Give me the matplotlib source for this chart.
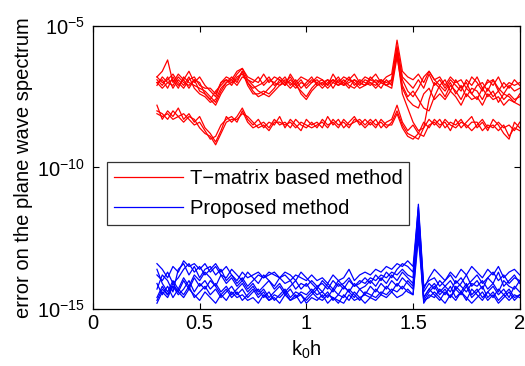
import numpy as np
import matplotlib
matplotlib.use("Agg")
import matplotlib.pyplot as plt
from matplotlib.lines import Line2D

plt.rcParams['font.family'] = ['Liberation Sans', 'DejaVu Sans']
plt.rcParams['mathtext.fontset'] = 'custom'
plt.rcParams['mathtext.rm'] = 'Liberation Sans'
plt.rcParams['mathtext.it'] = 'Liberation Sans:italic'
plt.rcParams['mathtext.default'] = 'regular'

# k0h sample grid (0.3 .. 2.0)
k0h = np.round(np.arange(0.3, 2.0001, 0.025), 3)

# log10 of error, T-matrix based method (upper group)
red_u1 = [-6.8, -6.6, -6.2, -7.0, -6.7, -6.9, -6.6, -7.0, -6.8, -7.1,
          -7.3, -7.5, -7.0, -6.8, -6.9, -6.6, -6.5, -6.8, -6.9, -7.0,
          -6.7, -7.0, -6.8, -6.9, -7.1, -6.7, -7.0, -6.8, -6.9, -7.0,
          -6.8, -6.9, -7.1, -6.7, -7.0, -6.8, -6.9, -6.7, -7.0, -6.8,
          -6.9, -6.7, -7.0, -6.8, -6.7, -5.5, -6.6, -6.8, -6.9, -6.7,
          -7.0, -6.6, -6.9, -6.8, -7.1, -6.8, -7.0, -6.9, -7.2, -6.8,
          -7.0, -7.3, -6.9, -7.1, -6.8, -7.2, -7.0, -7.1, -7.0]
red_u2 = [-7.0, -6.9, -7.2, -6.8, -7.1, -6.9, -7.2, -6.9, -7.3, -7.4,
          -7.6, -7.3, -7.1, -6.9, -7.1, -6.8, -6.7, -7.0, -7.2, -7.1,
          -7.0, -6.8, -7.1, -7.0, -6.8, -7.1, -6.9, -7.2, -7.0, -6.8,
          -7.1, -7.0, -6.9, -7.2, -6.9, -7.0, -7.2, -6.9, -7.1, -6.9,
          -7.0, -7.1, -6.9, -7.0, -6.9, -5.8, -6.9, -7.3, -7.5, -7.2,
          -6.8, -6.6, -6.9, -7.1, -6.9, -7.3, -6.9, -7.2, -7.0, -7.4,
          -7.1, -7.0, -7.3, -6.9, -7.2, -7.4, -7.1, -7.3, -7.2]
red_u3 = [-6.9, -7.1, -6.8, -7.2, -6.9, -7.1, -6.8, -7.2, -7.4, -7.5,
          -7.7, -7.6, -7.2, -7.0, -6.9, -7.1, -6.8, -6.9, -7.1, -7.3,
          -7.4, -7.2, -7.0, -7.1, -6.9, -7.0, -7.2, -7.0, -7.1, -6.9,
          -7.0, -7.2, -7.0, -6.9, -7.1, -7.0, -6.8, -7.1, -6.9, -7.0,
          -7.1, -6.9, -7.0, -7.1, -7.0, -6.0, -7.4, -7.9, -8.4, -8.7,
          -8.6, -7.6, -7.0, -7.2, -7.5, -7.1, -7.3, -7.6, -7.2, -7.4,
          -7.6, -7.2, -7.5, -7.3, -7.7, -7.4, -7.5, -7.7, -7.4]
red_u4 = [-7.1, -6.8, -7.0, -6.9, -7.2, -6.8, -7.0, -7.1, -7.2, -7.3,
          -7.5, -7.7, -7.3, -7.0, -6.8, -7.0, -6.6, -7.1, -7.4, -7.4,
          -7.3, -7.4, -7.2, -6.9, -7.1, -6.9, -7.1, -7.3, -7.5, -7.2,
          -7.0, -6.9, -7.1, -6.9, -7.0, -7.1, -6.9, -7.0, -7.2, -7.1,
          -6.9, -7.0, -7.2, -6.9, -7.1, -5.9, -7.1, -7.5, -7.3, -7.6,
          -7.9, -8.0, -7.5, -7.1, -7.3, -7.0, -7.4, -7.1, -7.5, -7.2,
          -7.3, -7.6, -7.2, -7.5, -7.3, -7.6, -7.4, -7.6, -7.5]
red_u5 = [-6.8, -7.0, -6.9, -6.7, -7.0, -7.2, -6.9, -6.8, -7.1, -7.2,
          -7.2, -7.4, -7.0, -6.9, -7.0, -6.7, -6.5, -6.9, -7.0, -6.8,
          -7.1, -6.9, -7.0, -6.8, -7.0, -6.8, -7.1, -6.9, -7.2, -7.0,
          -6.9, -7.1, -6.9, -7.0, -6.8, -7.1, -7.0, -6.9, -7.0, -7.1,
          -6.8, -7.0, -6.9, -7.1, -6.9, -5.7, -6.8, -7.0, -7.2, -6.9,
          -7.2, -6.7, -7.1, -6.9, -7.2, -6.9, -7.1, -7.3, -6.9, -7.1,
          -6.8, -7.2, -7.0, -6.9, -7.3, -7.0, -7.2, -6.9, -7.1]
red_u6 = [-7.0, -7.2, -7.0, -7.1, -6.8, -7.0, -7.1, -6.9, -7.0, -7.4,
          -7.6, -7.8, -7.4, -7.1, -7.0, -6.9, -6.6, -7.0, -7.3, -7.5,
          -7.4, -7.5, -7.3, -7.1, -7.0, -7.2, -7.0, -7.4, -7.6, -7.3,
          -7.1, -7.0, -7.2, -7.0, -7.1, -6.9, -7.1, -7.2, -7.0, -7.1,
          -7.0, -7.2, -7.0, -7.1, -7.2, -6.1, -7.2, -7.6, -7.8, -7.9,
          -7.4, -7.2, -7.6, -7.4, -7.6, -7.3, -7.5, -7.8, -7.4, -7.6,
          -7.5, -7.8, -7.4, -7.6, -7.5, -7.8, -7.6, -7.7, -7.8]
# log10 of error, T-matrix based method (lower group)
red_l1 = [-7.8, -8.3, -8.0, -8.2, -7.9, -8.3, -8.1, -8.4, -8.2, -8.6,
          -8.8, -9.1, -8.7, -8.2, -8.4, -8.2, -7.9, -8.3, -8.5, -8.3,
          -8.6, -8.4, -8.5, -8.2, -8.6, -8.3, -8.5, -8.7, -8.3, -8.5,
          -8.4, -8.6, -8.2, -8.5, -8.3, -8.6, -8.4, -8.2, -8.5, -8.3,
          -8.5, -8.3, -8.6, -8.4, -8.3, -7.8, -8.4, -8.7, -8.5, -8.8,
          -8.4, -8.6, -8.3, -8.5, -8.4, -8.7, -8.3, -8.6, -8.4, -8.2,
          -8.6, -8.4, -8.7, -8.3, -8.5, -8.8, -9.0, -8.4, -8.6]
red_l2 = [-8.0, -8.1, -8.3, -8.0, -8.2, -8.1, -8.3, -8.5, -8.4, -8.7,
          -9.0, -8.9, -8.5, -8.3, -8.2, -8.4, -8.0, -8.4, -8.6, -8.5,
          -8.4, -8.6, -8.3, -8.5, -8.4, -8.6, -8.3, -8.5, -8.6, -8.4,
          -8.6, -8.3, -8.5, -8.4, -8.6, -8.3, -8.5, -8.4, -8.3, -8.5,
          -8.3, -8.5, -8.4, -8.6, -8.4, -8.0, -8.5, -8.8, -8.9, -9.0,
          -8.6, -8.3, -8.5, -8.3, -8.6, -8.4, -8.5, -8.3, -8.6, -8.4,
          -8.4, -8.7, -8.5, -8.6, -8.4, -8.6, -8.5, -8.7, -8.4]
red_l3 = [-8.1, -8.2, -8.1, -8.3, -8.2, -8.4, -8.2, -8.3, -8.6, -8.8,
          -8.9, -9.2, -8.8, -8.4, -8.3, -8.3, -8.1, -8.2, -8.4, -8.6,
          -8.5, -8.7, -8.4, -8.4, -8.5, -8.4, -8.6, -8.4, -8.5, -8.6,
          -8.5, -8.4, -8.6, -8.3, -8.5, -8.4, -8.6, -8.3, -8.4, -8.6,
          -8.4, -8.6, -8.3, -8.5, -8.5, -8.1, -8.6, -8.9, -9.0, -8.8,
          -8.9, -8.5, -8.4, -8.6, -8.3, -8.5, -8.6, -8.4, -8.5, -8.7,
          -8.5, -8.3, -8.6, -8.5, -8.7, -8.5, -8.9, -8.6, -8.7]

# log10 of error, proposed method
blue_1 = [-13.4, -13.6, -13.9, -13.5, -13.7, -13.3, -13.5, -13.4, -13.6, -13.4,
          -13.7, -13.5, -13.8, -13.9, -13.6, -13.8, -14.0, -13.7, -13.9, -14.1,
          -13.8, -14.0, -14.2, -13.9, -14.1, -14.0, -14.3, -14.1, -14.2, -14.0,
          -14.2, -14.1, -14.3, -14.0, -14.2, -14.1, -13.9, -14.2, -14.0, -14.1,
          -13.9, -14.0, -13.8, -13.9, -13.7, -13.8, -13.6, -13.8, -13.9, -11.3,
          -14.2, -14.0, -13.9, -14.2, -14.0, -13.8, -14.1, -13.9, -14.2, -14.0,
          -13.8, -14.1, -13.9, -13.7, -14.0, -13.8, -14.1, -13.9, -14.0]
blue_2 = [-14.3, -13.8, -14.0, -14.4, -13.6, -13.4, -13.8, -13.5, -13.9, -13.6,
          -13.5, -13.8, -13.6, -14.0, -13.8, -14.1, -13.9, -14.2, -14.0, -13.8,
          -13.9, -13.7, -13.8, -13.9, -13.7, -13.8, -14.0, -13.7, -13.9, -14.1,
          -14.3, -14.0, -14.2, -14.4, -14.1, -14.3, -14.0, -14.2, -14.1, -13.9,
          -14.1, -13.8, -14.0, -13.7, -13.9, -13.6, -13.4, -13.5, -13.7, -11.6,
          -14.6, -14.3, -14.1, -14.4, -14.2, -14.0, -14.3, -14.1, -13.8, -14.2,
          -14.0, -14.3, -13.9, -14.1, -13.7, -14.2, -14.0, -13.8, -14.1]
blue_3 = [-14.6, -14.2, -14.5, -14.1, -14.4, -14.0, -14.3, -13.9, -14.2, -14.0,
          -14.3, -14.1, -14.4, -14.2, -14.5, -14.3, -14.1, -14.4, -14.2, -14.5,
          -14.3, -14.6, -14.4, -14.2, -14.5, -14.3, -14.6, -14.4, -14.5, -14.3,
          -14.5, -14.4, -14.6, -14.3, -14.5, -14.2, -14.4, -14.6, -14.3, -14.5,
          -14.2, -14.4, -14.1, -14.3, -14.0, -14.2, -13.9, -14.1, -14.3, -12.0,
          -14.7, -14.4, -14.2, -14.5, -14.3, -14.6, -14.2, -14.4, -14.1, -14.5,
          -14.3, -14.6, -14.4, -14.2, -14.5, -14.3, -14.6, -14.2, -14.4]
blue_4 = [-14.8, -14.4, -14.6, -14.2, -14.5, -14.3, -14.0, -14.4, -14.1, -14.3,
          -14.0, -14.2, -14.5, -14.3, -14.6, -14.4, -14.7, -14.5, -14.3, -14.6,
          -14.4, -14.7, -14.5, -14.6, -14.4, -14.7, -14.5, -14.8, -14.6, -14.4,
          -14.6, -14.7, -14.5, -14.6, -14.8, -14.5, -14.7, -14.4, -14.6, -14.5,
          -14.6, -14.3, -14.5, -14.2, -14.4, -14.1, -14.3, -14.0, -14.2, -11.8,
          -14.8, -14.5, -14.6, -14.3, -14.5, -14.2, -14.6, -14.4, -14.7, -14.3,
          -14.5, -14.7, -14.4, -14.6, -14.3, -14.5, -14.7, -14.5, -14.6]
blue_5 = [-13.6, -14.1, -14.4, -14.0, -14.3, -13.9, -14.2, -13.8, -14.0, -13.7,
          -13.9, -14.2, -13.8, -14.1, -13.9, -14.2, -14.0, -14.3, -14.1, -14.4,
          -14.2, -14.0, -14.3, -14.1, -14.4, -14.2, -14.0, -14.3, -14.1, -14.4,
          -14.2, -14.4, -14.1, -14.3, -14.0, -14.2, -14.4, -14.1, -14.3, -14.2,
          -14.0, -14.2, -13.9, -14.1, -13.8, -14.0, -13.7, -13.9, -14.1, -11.5,
          -14.4, -14.1, -14.3, -14.0, -14.2, -14.4, -14.0, -14.2, -14.4, -14.1,
          -14.2, -14.0, -14.3, -14.1, -14.4, -14.0, -14.2, -14.3, -14.0]
blue_6 = [-14.1, -14.5, -14.2, -14.6, -14.3, -14.5, -14.2, -14.6, -14.4, -14.2,
          -14.5, -14.3, -14.6, -14.4, -14.2, -14.5, -14.3, -14.6, -14.4, -14.3,
          -14.6, -14.4, -14.7, -14.5, -14.3, -14.6, -14.4, -14.5, -14.7, -14.5,
          -14.3, -14.6, -14.4, -14.7, -14.5, -14.6, -14.3, -14.5, -14.7, -14.4,
          -14.5, -14.6, -14.4, -14.5, -14.3, -14.4, -14.2, -14.4, -14.5, -12.2,
          -14.6, -14.3, -14.5, -14.7, -14.4, -14.6, -14.3, -14.5, -14.2, -14.6,
          -14.4, -14.2, -14.6, -14.4, -14.7, -14.5, -14.3, -14.6, -14.5]
blue_7 = [-13.8, -14.0, -13.7, -14.1, -13.9, -13.6, -13.4, -13.7, -13.5, -13.8,
          -13.6, -13.4, -13.7, -13.5, -13.8, -14.0, -13.7, -13.9, -13.8, -13.7,
          -13.9, -13.8, -13.7, -13.9, -13.8, -14.0, -13.8, -13.9, -14.0, -13.8,
          -14.0, -13.9, -14.1, -13.8, -14.0, -13.9, -13.6, -14.0, -13.8, -13.7,
          -13.8, -13.6, -13.7, -13.5, -13.6, -13.4, -13.5, -13.3, -13.5, -11.4,
          -14.3, -13.9, -13.6, -13.8, -14.0, -13.7, -13.9, -13.6, -13.8, -13.5,
          -13.7, -13.9, -13.6, -13.8, -13.5, -13.9, -13.7, -13.6, -13.8]
blue_8 = [-14.7, -14.3, -14.5, -14.2, -14.4, -14.6, -14.3, -14.5, -14.7, -14.4,
          -14.6, -14.8, -14.5, -14.7, -14.4, -14.6, -14.5, -14.7, -14.6, -14.8,
          -14.5, -14.7, -14.6, -14.8, -14.5, -14.7, -14.6, -14.5, -14.8, -14.6,
          -14.7, -14.5, -14.8, -14.6, -14.7, -14.8, -14.5, -14.7, -14.6, -14.8,
          -14.6, -14.7, -14.5, -14.6, -14.4, -14.6, -14.5, -14.3, -14.5, -12.5,
          -14.7, -14.6, -14.4, -14.6, -14.8, -14.5, -14.7, -14.4, -14.6, -14.8,
          -14.6, -14.4, -14.7, -14.5, -14.8, -14.6, -14.4, -14.7, -14.5]

red_series = [red_u1, red_u2, red_u3, red_u4, red_u5, red_u6, red_l1, red_l2, red_l3]
blue_series = [blue_1, blue_2, blue_3, blue_4, blue_5, blue_6, blue_7, blue_8]
legend_labels = ["T\u2212matrix based method", "Proposed method"]
xticks = [0, 0.5, 1, 1.5, 2]
xtick_labels = ["0", "0.5", "1", "1.5", "2"]
yticks = [1e-15, 1e-10, 1e-5]

FS = 14.5

fig = plt.figure(figsize=(5.25, 3.66), dpi=100)
ax = fig.add_axes([0.177, 0.156, 0.813, 0.773])

for s in red_series:
    ax.plot(k0h, 10.0 ** np.array(s), color='#ff0000', lw=0.9)
for s in blue_series:
    ax.plot(k0h, 10.0 ** np.array(s), color='#0000ff', lw=0.9)

ax.set_yscale('log')
ax.set_xlim(0, 2)
ax.set_ylim(1e-15, 1e-5)
ax.set_xticks(xticks)
ax.set_xticklabels(xtick_labels)
ax.set_yticks(yticks)
ax.yaxis.set_minor_locator(matplotlib.ticker.NullLocator())
ax.tick_params(direction='in', top=True, right=True, labelsize=FS, length=4, width=0.8)
ax.tick_params(axis='x', pad=4)
ax.tick_params(axis='y', pad=6)
for sp in ax.spines.values():
    sp.set_linewidth(0.9)

ax.set_xlabel("k$_0$h", fontsize=FS, labelpad=4)
ax.set_ylabel("error on the plane wave spectrum", fontsize=FS, labelpad=3)

handles = [Line2D([], [], color='#ff0000', lw=0.9), Line2D([], [], color='#0000ff', lw=0.9)]
leg = ax.legend(handles, legend_labels, loc='upper left', bbox_to_anchor=(0.033, 0.519),
                fontsize=FS, frameon=True, fancybox=False, edgecolor='black',
                handlelength=3.4, handletextpad=0.35, borderpad=0.35, labelspacing=0.55,
                borderaxespad=0)
leg.get_frame().set_linewidth(0.9)

fig.savefig("out.png", dpi=100)
